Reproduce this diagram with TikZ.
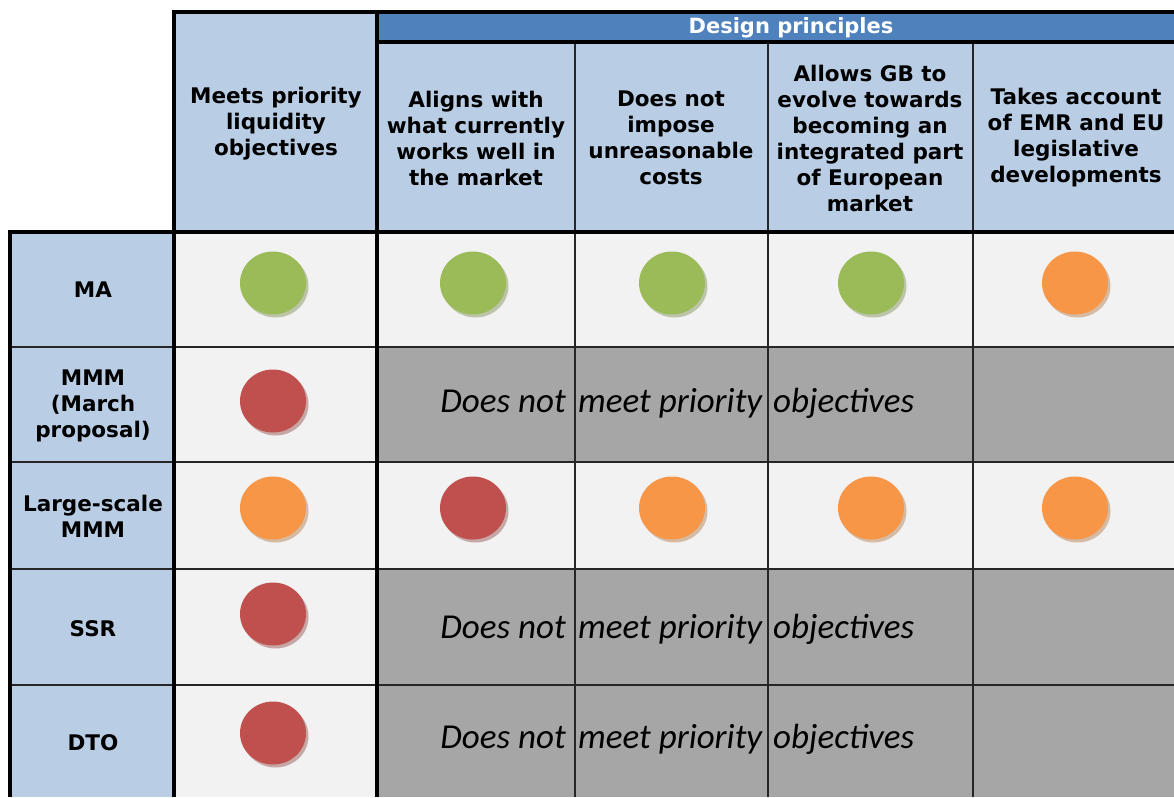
\documentclass[tikz,border=0pt]{standalone}
\usepackage{fontspec}
\setmainfont{DejaVu Sans}
\newfontfamily\cellfont{Carlito}
\usetikzlibrary{shapes.geometric,shadows}

\definecolor{headblue}{HTML}{B9CDE5}
\definecolor{bandblue}{HTML}{4F81BD}
\definecolor{cellgray}{HTML}{F2F2F2}
\definecolor{offgray}{HTML}{A6A6A6}
\definecolor{okgreen}{HTML}{9BBB59}
\definecolor{badred}{HTML}{C0504D}
\definecolor{midorange}{HTML}{F79646}

\tikzset{
    headtext/.style={font=\bfseries\fontsize{21.5}{26}\selectfont, align=center, inner sep=0pt},
    rowtext/.style={font=\bfseries\fontsize{21.5}{26}\selectfont, align=center, inner sep=0pt},
    offtext/.style={font=\cellfont\itshape\fontsize{35}{40}\selectfont, inner sep=0pt, anchor=base},
    rating/.style={ellipse, minimum width=66pt, minimum height=63pt, inner sep=0pt, fill=#1,
        drop shadow={shadow xshift=2.5pt, shadow yshift=-3pt, fill=#1!70!black, opacity=0.4}},
    thinline/.style={line width=1.3pt, black!85},
    thickline/.style={line width=4pt, black}
}

\begin{document}
\begin{tikzpicture}[x=1pt, y=-1pt]
    \useasboundingbox (0,0) rectangle (1174,797);

    % Cell fills
    \fill[headblue] (174,12) rectangle (377,232);
    \fill[bandblue] (377,12) rectangle (1174,42);
    \fill[headblue] (377,42) rectangle (1174,232);
    \fill[headblue] (10,232) rectangle (174,797);
    \fill[cellgray] (174,232) rectangle (1174,797);
    \fill[offgray] (377,347) rectangle (1174,462);
    \fill[offgray] (377,569) rectangle (1174,797);

    % Thin grid lines
    \foreach \y in {347,462,569,685}
        \draw[thinline] (10,\y) -- (1174,\y);
    \foreach \x in {575,768,973}
        \draw[thinline] (\x,42) -- (\x,797);

    % Thick borders
    \draw[thickline] (172,12) -- (1174,12);
    \draw[thickline] (377,42) -- (1174,42);
    \draw[thickline] (8,232) -- (1174,232);
    \draw[thickline] (174,12) -- (174,797);
    \draw[thickline] (377,12) -- (377,797);
    \draw[thickline] (10,230) -- (10,797);

    % Header texts
    \node[font=\bfseries\fontsize{21}{24}\selectfont, text=white, inner sep=0pt] (band) at (791,28) {Design principles};
    \node[headtext] (liquidity) at (276,124) {Meets priority\\liquidity\\objectives};
    \node[headtext] (aligns) at (476,138) {Aligns with\\what currently\\works well in\\the market};
    \node[headtext] (costs) at (671,138) {Does not\\impose\\unreasonable\\costs};
    \node[headtext] (europe) at (870,138) {Allows GB to\\evolve towards\\becoming an\\integrated part\\of European\\market};
    \node[headtext] (emr) at (1076,138) {Takes account\\of EMR and EU\\legislative\\developments};

    % Row labels
    \node[rowtext] (ma) at (93,290) {MA};
    \node[rowtext] (mmm) at (93,406) {MMM\\(March\\proposal)};
    \node[rowtext] (large) at (93,516) {Large-scale\\MMM};
    \node[rowtext] (ssr) at (93,629) {SSR};
    \node[rowtext] (dto) at (93,743) {DTO};

    % Ratings
    \foreach \x/\c [count=\i] in {273/okgreen, 473/okgreen, 672/okgreen, 871/okgreen, 1075/midorange}
        \node[rating=\c] (ma\i) at (\x,283) {};
    \foreach \x/\c [count=\i] in {273/midorange, 473/badred, 672/midorange, 871/midorange, 1075/midorange}
        \node[rating=\c] (large\i) at (\x,508) {};
    \node[rating=badred] (mmm1) at (273,401) {};
    \node[rating=badred] (ssr1) at (273,614) {};
    \node[rating=badred] (dto1) at (273,733) {};

    % Rows that fail the priority objectives
    \foreach \y/\r in {412/mmm, 638/ssr, 748/dto} {
        \node[offtext, anchor=base east] (\r a) at (566,\y) {Does not};
        \node[offtext, anchor=base west] (\r b) at (578,\y) {meet priority};
        \node[offtext, anchor=base west] (\r c) at (773,\y) {objectives};
    }
\end{tikzpicture}
\end{document}
